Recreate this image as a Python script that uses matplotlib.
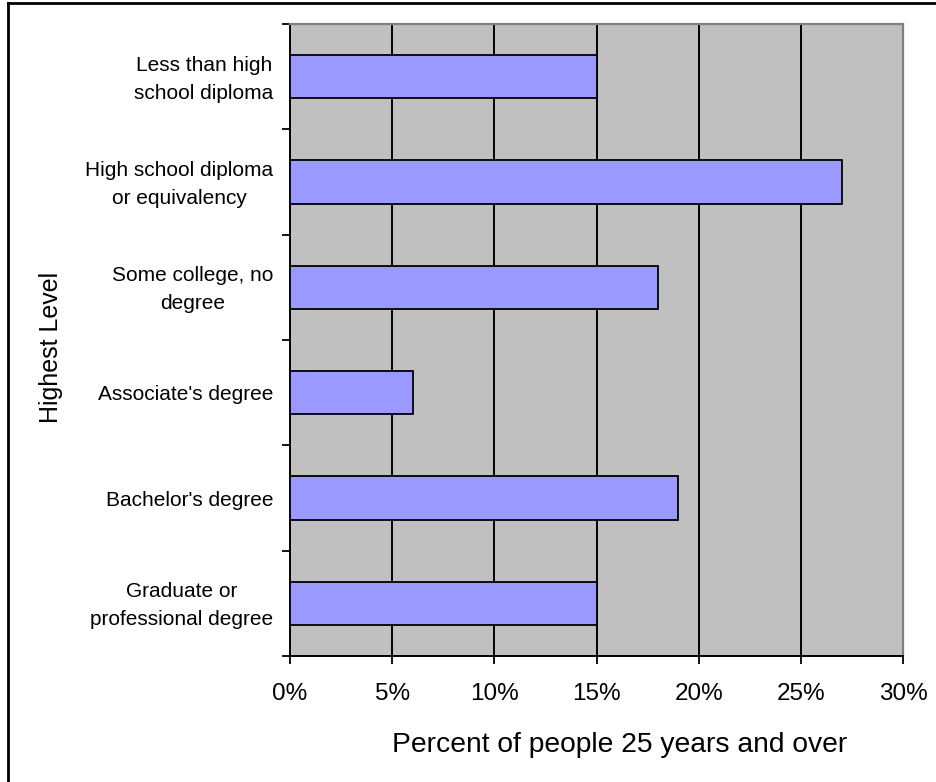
import matplotlib.pyplot as plt
import matplotlib.transforms as mtransforms
from matplotlib.ticker import FixedLocator, FuncFormatter
from matplotlib.lines import Line2D

plt.rcParams['font.family'] = ['Liberation Sans', 'DejaVu Sans']

# dane
categories = ["Less than high\nschool diploma", "High school diploma\nor equivalency",
              "Some college, no\ndegree", "Associate's degree",
              "Bachelor's degree", "Graduate or\nprofessional degree"]
percents = [15, 27, 18, 6, 19, 15]
x_ticks = [0, 5, 10, 15, 20, 25, 30]

W, H = 937, 782
fig = plt.figure(figsize=(W / 100, H / 100), dpi=100)
ax = fig.add_axes([290 / W, 1 - 656 / H, (903 - 290) / W, (656 - 24) / H])

pos = list(range(len(categories)))
ax.barh(pos, percents, height=0.41, color='#9999FF', edgecolor='black', linewidth=1.3, zorder=3)

ax.set_facecolor('#C0C0C0')
ax.set_xlim(0, 30)
ax.set_ylim(len(categories) - 0.5, -0.5)

ax.xaxis.set_major_locator(FixedLocator(x_ticks))
ax.xaxis.set_major_formatter(FuncFormatter(lambda v, p: f'{v:.0f}%'))
ax.grid(axis='x', color='black', linewidth=1.4, zorder=1)

ax.set_yticks(pos)
ax.set_yticklabels(categories, ha='right', multialignment='center', linespacing=1.6)
ax.set_yticks([p - 0.5 for p in pos] + [len(pos) - 0.5], minor=True)
ax.tick_params(axis='y', which='major', length=0, pad=12, labelsize=15)
ax.tick_params(axis='y', which='minor', length=5.5, width=1.3)
ax.tick_params(axis='x', length=5.8, width=1.3, labelsize=17.5, pad=14)

# etykiety dwuwierszowe lekko w górę
shift = mtransforms.ScaledTranslation(0, 4 / 100, fig.dpi_scale_trans)
for lbl in ax.get_yticklabels():
    if '\n' in lbl.get_text():
        lbl.set_transform(lbl.get_transform() + shift)

for s in ['left', 'bottom']:
    ax.spines[s].set_color('black')
    ax.spines[s].set_linewidth(1.4)
for s in ['top', 'right']:
    ax.spines[s].set_color('#808080')
    ax.spines[s].set_linewidth(1.6)

ax.set_xlabel('Percent of people 25 years and over', fontsize=20.3)
ax.xaxis.set_label_coords((620 - 290) / 613, -(732 - 656) / 632)
ax.xaxis.label.set_va('top')
fig.text(51 / W, 1 - 347 / H, 'Highest Level', rotation=90, ha='center', va='center', fontsize=18)

# ramka (tylko góra i lewa strona)
fig.add_artist(Line2D([8 / W, 8 / W], [0, 1 - 3 / H], transform=fig.transFigure, color='black', linewidth=2))
fig.add_artist(Line2D([8 / W, 1], [1 - 3 / H, 1 - 3 / H], transform=fig.transFigure, color='black', linewidth=2))

fig.savefig('out.png', dpi=100)
